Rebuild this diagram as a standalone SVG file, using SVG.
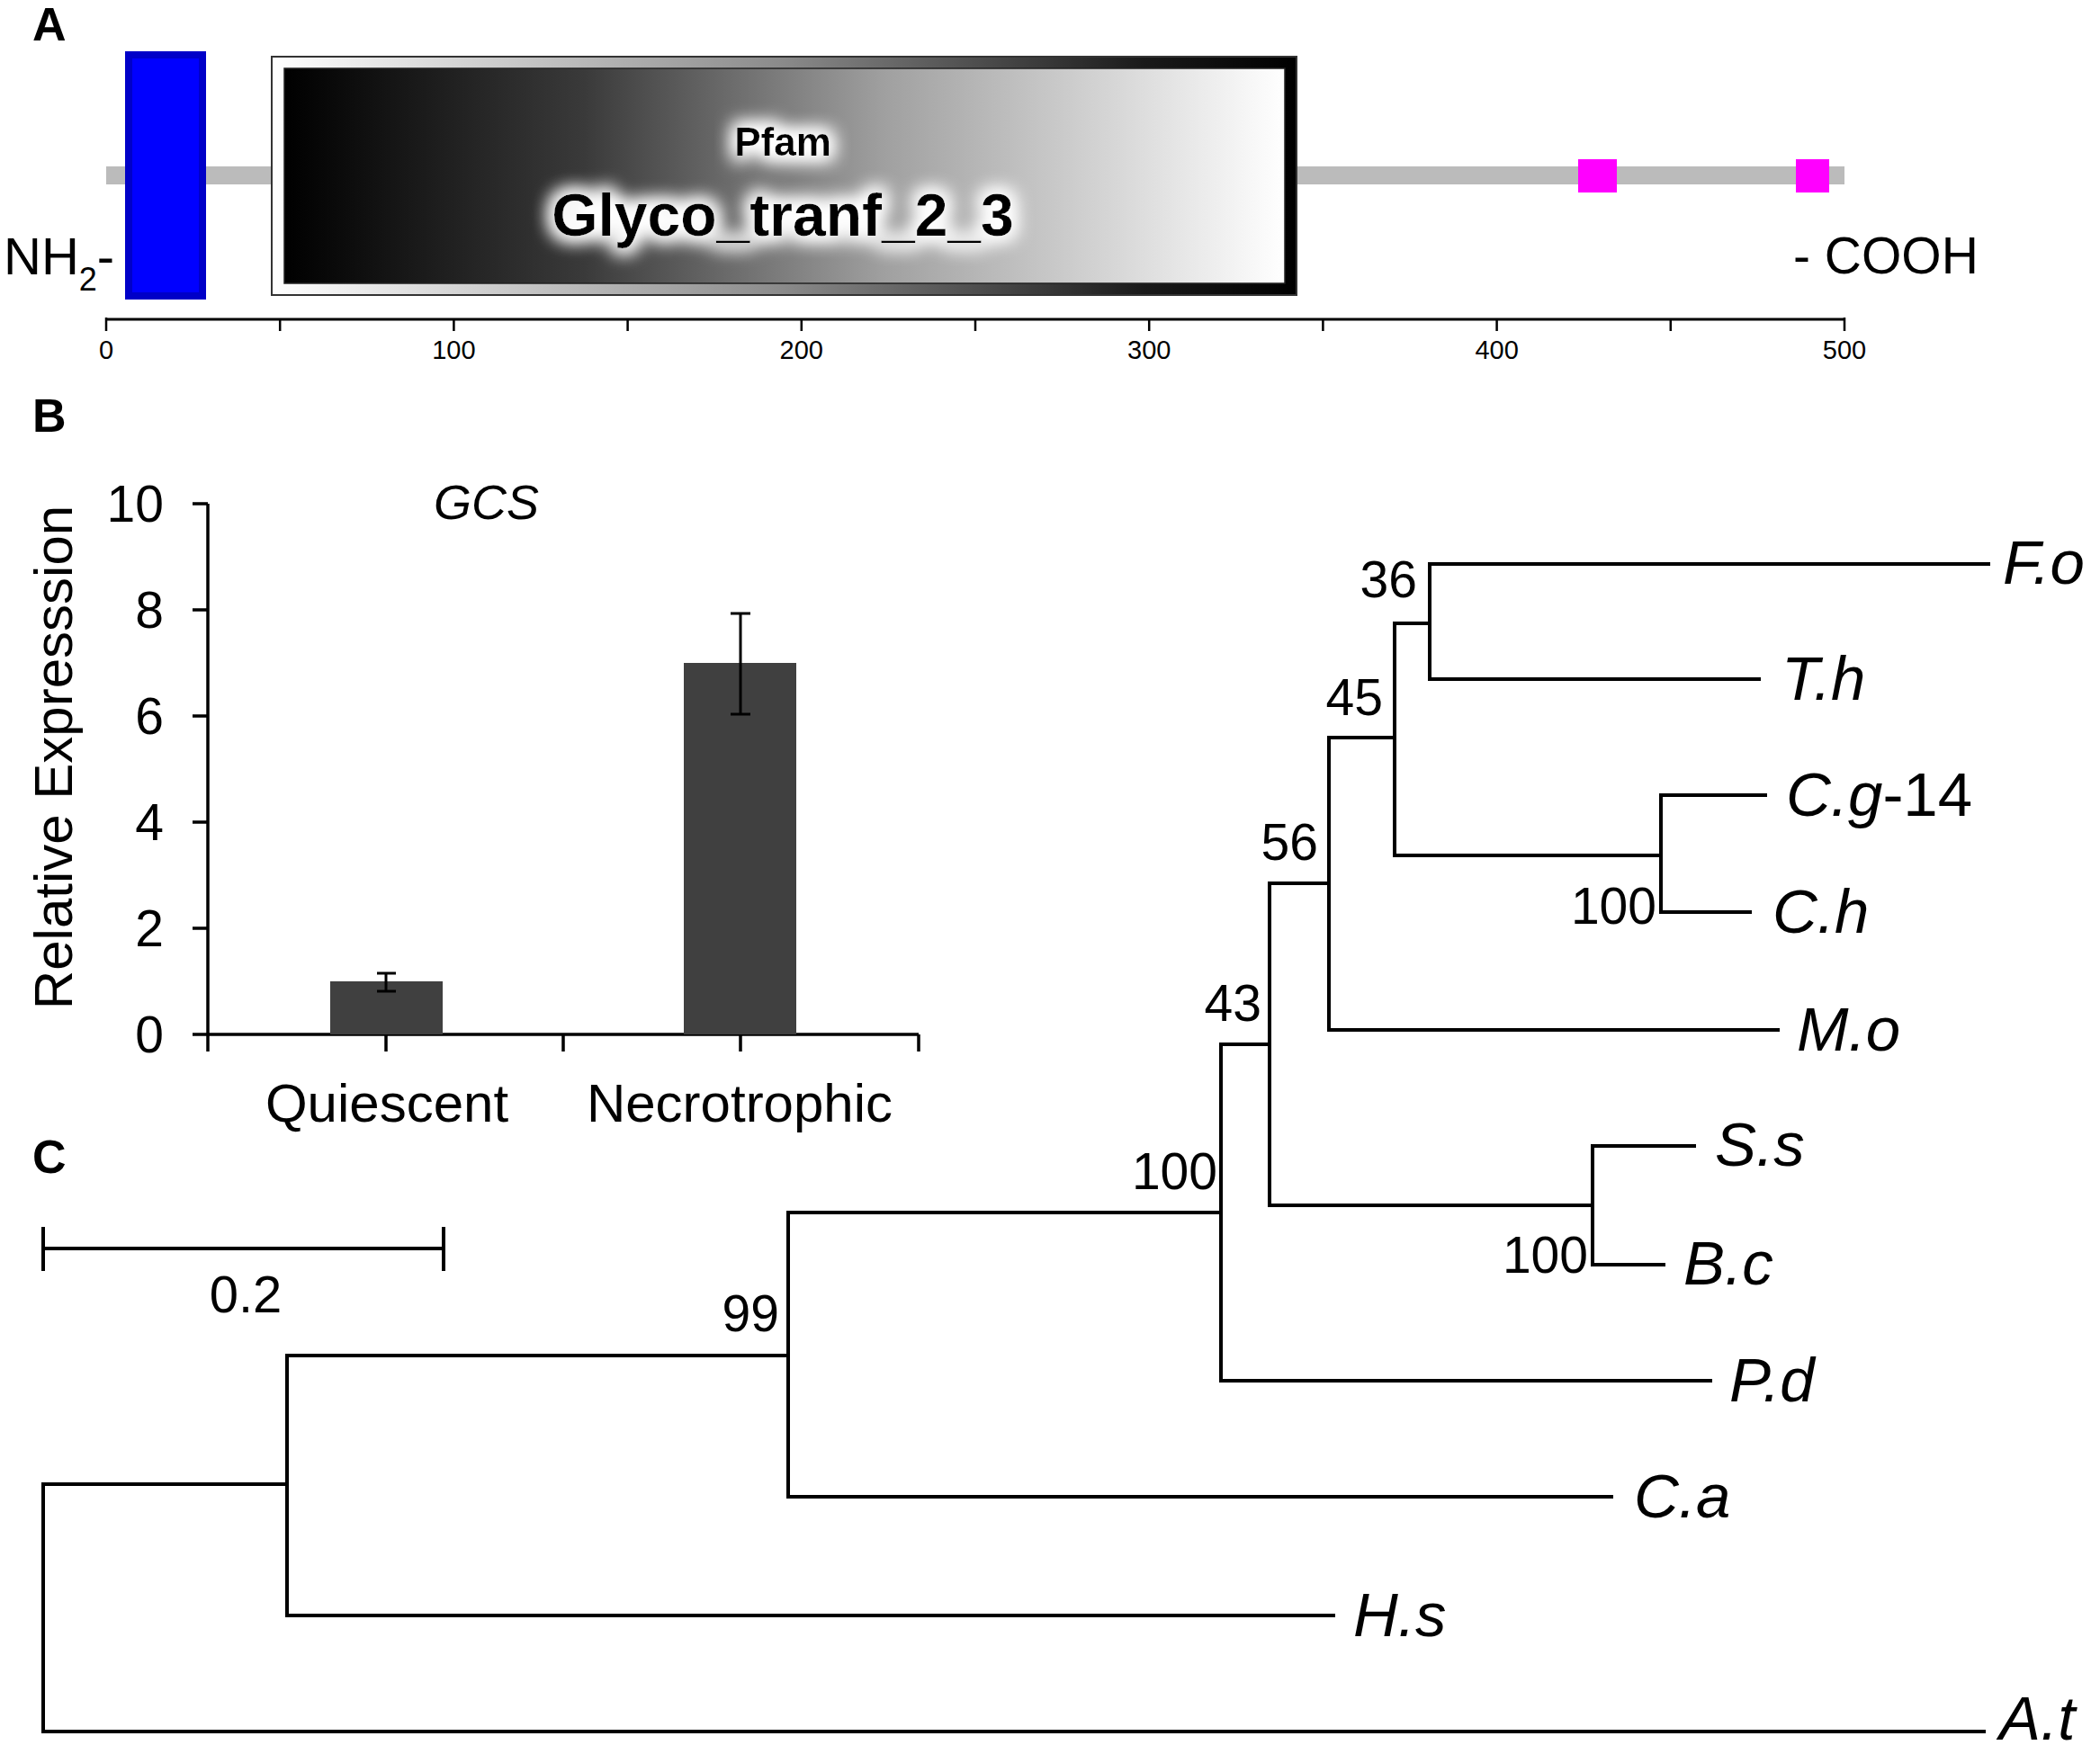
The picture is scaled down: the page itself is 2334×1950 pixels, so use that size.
<svg xmlns="http://www.w3.org/2000/svg" width="2334" height="1950" viewBox="0 0 2334 1950">
<style>
text{font-family:"Liberation Sans",Arial,sans-serif;fill:#000}
.panel{font-weight:bold;font-size:52px}
.ln{stroke:#000;stroke-width:4;fill:none;stroke-linecap:square}
.ax{stroke:#000;stroke-width:3.5;fill:none}
.tick{font-size:29px;text-anchor:middle}
.ylab{font-size:57px;text-anchor:end}
.xlab{font-size:60px;text-anchor:middle}
.sp{font-size:69px;font-style:italic}
.bs{font-size:57px;text-anchor:end}
.bar{fill:#404040}
</style>
<defs>
<linearGradient id="frameGrad" x1="0" y1="0" x2="1" y2="0">
<stop offset="0" stop-color="#ffffff"/><stop offset="0.5" stop-color="#8a8a8a"/><stop offset="0.85" stop-color="#1a1a1a"/><stop offset="1" stop-color="#000"/>
</linearGradient>
<linearGradient id="innerGrad" x1="0" y1="0" x2="1" y2="0">
<stop offset="0" stop-color="#000"/><stop offset="0.3" stop-color="#3a3a3a"/><stop offset="0.6" stop-color="#a0a0a0"/><stop offset="1" stop-color="#ffffff"/>
</linearGradient>
<filter id="glow" x="-20%" y="-60%" width="140%" height="220%">
<feMorphology in="SourceAlpha" operator="dilate" radius="4" result="d"/>
<feGaussianBlur in="d" stdDeviation="10" result="b"/>
<feFlood flood-color="#ffffff"/>
<feComposite in2="b" operator="in" result="g"/>
<feMerge><feMergeNode in="g"/><feMergeNode in="g"/><feMergeNode in="SourceGraphic"/></feMerge>
</filter>
</defs>
<rect width="2334" height="1950" fill="#fff"/>

<!-- Panel A -->
<g id="panelA">
<text class="panel" x="36" y="45">A</text>
<rect id="backbone" x="118" y="185" width="1932" height="20" fill="#bbbbbb"/>
<g id="tm-domain"><rect x="143" y="61" width="82" height="268" fill="#0000ff" stroke="#0000c8" stroke-width="8"/></g>
<g id="pfam-domain">
<rect x="302" y="63" width="1139" height="265" fill="url(#frameGrad)" stroke="#333" stroke-width="2"/>
<rect x="316" y="76" width="1112" height="239" fill="url(#innerGrad)" stroke="#222" stroke-width="1.5"/>
<text x="870" y="173" font-size="44" font-weight="bold" text-anchor="middle" filter="url(#glow)">Pfam</text>
<text x="870" y="262" font-size="66" font-weight="bold" text-anchor="middle" filter="url(#glow)">Glyco_tranf_2_3</text>
</g>
<g id="motifs">
<rect x="1754" y="177" width="43" height="37" fill="#ff00ff"/>
<rect x="1996" y="177" width="37" height="37" fill="#ff00ff"/>
</g>
<text x="4" y="305" font-size="58">NH<tspan font-size="36" dy="18">2</tspan><tspan dy="-18">-</tspan></text>
<text x="1993" y="304" font-size="57">- COOH</text>
<g id="ruler">
<line x1="118" y1="355" x2="2050" y2="355" stroke="#000" stroke-width="3"/>
<path stroke="#000" stroke-width="2.5" fill="none" d="M118,353V368M311.2,355V368M504.4,355V368M697.6,355V368M890.8,355V368M1084,355V368M1277.2,355V368M1470.4,355V368M1663.6,355V368M1856.8,355V368M2050,353V368"/>
<text class="tick" x="118" y="399">0</text>
<text class="tick" x="504.4" y="399">100</text>
<text class="tick" x="890.8" y="399">200</text>
<text class="tick" x="1277.2" y="399">300</text>
<text class="tick" x="1663.6" y="399">400</text>
<text class="tick" x="2050" y="399">500</text>
</g>
</g>

<!-- Panel B -->
<g id="panelB">
<text class="panel" x="36" y="480">B</text>
<g id="axes">
<path class="ax" d="M231,560V1169M214,1150H1021"/>
<path class="ax" d="M214,560H231M214,678H231M214,796H231M214,914H231M214,1032H231M429,1150V1169M626,1150V1169M823,1150V1169M1021,1150V1169"/>
<text class="ylab" x="182" y="580">10</text>
<text class="ylab" x="182" y="698">8</text>
<text class="ylab" x="182" y="816">6</text>
<text class="ylab" x="182" y="934">4</text>
<text class="ylab" x="182" y="1052">2</text>
<text class="ylab" x="182" y="1170">0</text>
<text font-size="60" text-anchor="middle" transform="translate(80,842) rotate(-90)">Relative Expresssion</text>
</g>
<g id="bar-quiescent">
<rect class="bar" x="367" y="1091" width="125" height="59"/>
<path stroke="#000" stroke-width="3" fill="none" d="M429,1082V1102M419,1082H440M419,1102H440"/>
<text class="xlab" x="430" y="1247">Quiescent</text>
</g>
<g id="bar-necrotrophic">
<rect class="bar" x="760" y="737" width="125" height="413"/>
<path stroke="#000" stroke-width="3" fill="none" d="M823,682V794M812,682H834M812,794H834"/>
<text class="xlab" x="822" y="1247">Necrotrophic</text>
</g>
<text x="482" y="577" font-size="54" font-style="italic">GCS</text>
</g>

<!-- Panel C -->
<g id="panelC">
<text class="panel" x="36" y="1304">C</text>
<g id="scale-bar">
<path class="ln" stroke-linecap="butt" d="M48,1388H493M48,1366V1411M493,1366V1411"/>
<text x="273" y="1459" font-size="58" text-anchor="middle">0.2</text>
</g>
<g id="connectors">
<path class="ln" d="M48,1650V1925H2205"/>
<path class="ln" d="M48,1650H319"/>
<path class="ln" d="M319,1507V1796H1482"/>
<path class="ln" d="M319,1507H876"/>
<path class="ln" d="M876,1348V1664H1791"/>
<path class="ln" d="M876,1348H1357"/>
<path class="ln" d="M1357,1161V1535H1901"/>
<path class="ln" d="M1357,1161H1411"/>
<path class="ln" d="M1411,982V1340H1770"/>
<path class="ln" d="M1770,1274V1406H1849M1770,1274H1883"/>
<path class="ln" d="M1411,982H1477"/>
<path class="ln" d="M1477,820V1145H1976"/>
<path class="ln" d="M1477,820H1550"/>
<path class="ln" d="M1550,693V951H1846"/>
<path class="ln" d="M1846,884V1014H1945M1846,884H1962"/>
<path class="ln" d="M1550,693H1589"/>
<path class="ln" d="M1589,627V755H1955M1589,627H2210"/>
</g>
<g id="bootstrap">
<text class="bs" x="1575" y="664">36</text>
<text class="bs" x="1537" y="795">45</text>
<text class="bs" x="1465" y="956">56</text>
<text class="bs" x="1402" y="1135">43</text>
<text class="bs" x="1841" y="1027">100</text>
<text class="bs" x="1353" y="1322">100</text>
<text class="bs" x="1765" y="1415">100</text>
<text class="bs" x="866" y="1480">99</text>
</g>
<g id="leaf-Fo"><text class="sp" x="2226" y="649">F.o</text></g>
<g id="leaf-Th"><text class="sp" x="1980" y="778">T.h</text></g>
<g id="leaf-Cg14"><text class="sp" x="1985" y="907">C.g<tspan font-style="normal">-14</tspan></text></g>
<g id="leaf-Ch"><text class="sp" x="1970" y="1037">C.h</text></g>
<g id="leaf-Mo"><text class="sp" x="1997" y="1168">M.o</text></g>
<g id="leaf-Ss"><text class="sp" x="1906" y="1296">S.s</text></g>
<g id="leaf-Bc"><text class="sp" x="1871" y="1428">B.c</text></g>
<g id="leaf-Pd"><text class="sp" x="1922" y="1558">P.d</text></g>
<g id="leaf-Ca"><text class="sp" x="1816" y="1687">C.a</text></g>
<g id="leaf-Hs"><text class="sp" x="1504" y="1819">H.s</text></g>
<g id="leaf-At"><text class="sp" x="2222" y="1934">A.t</text></g>
</g>
</svg>
